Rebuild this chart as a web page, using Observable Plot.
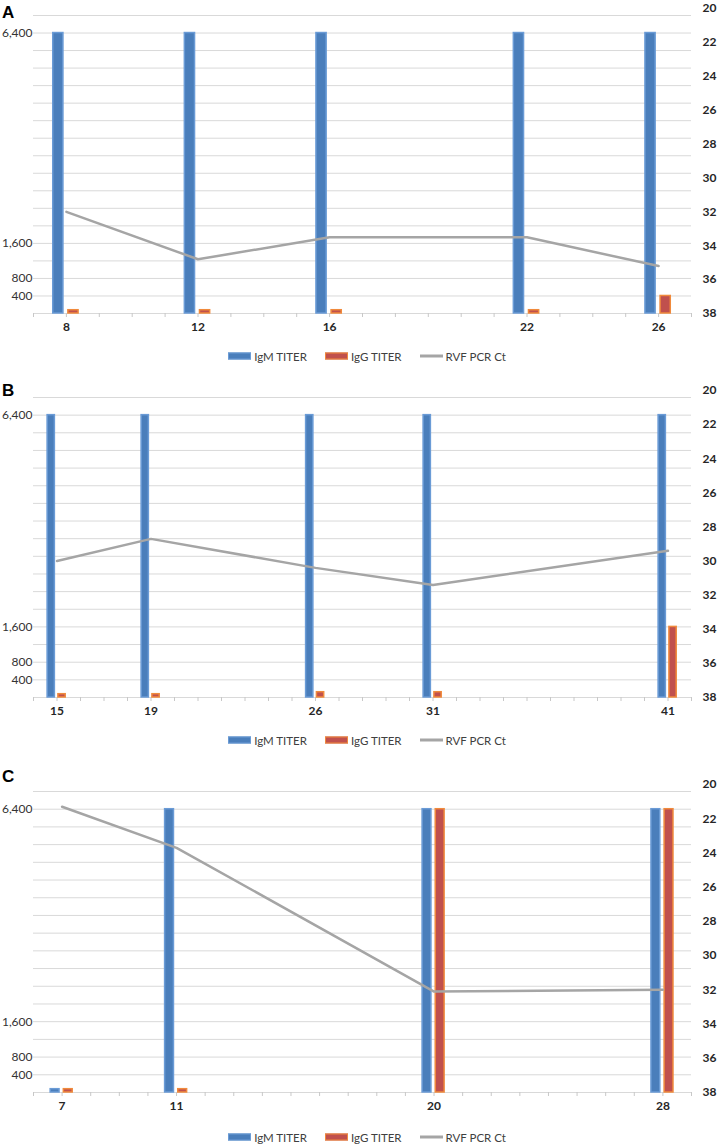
<!DOCTYPE html>
<html>
<head>
<meta charset="utf-8">
<script src="https://cdn.jsdelivr.net/npm/d3@7"></script>
<script src="https://cdn.jsdelivr.net/npm/@observablehq/plot@0.6"></script>
<style>
  html, body { margin: 0; padding: 0; background: #fff; }
  #root { position: relative; width: 717px; height: 1144px; overflow: hidden; font-family: Lato, "Liberation Sans", sans-serif; }
  .panel { position: absolute; left: 0; }
  .letter { position: absolute; left: 2px; font: bold 17px "Liberation Sans", Arial, sans-serif; color: #000; line-height: 1; }
  .legend { position: absolute; left: 0; width: 717px; display: flex; justify-content: center; align-items: center;
            padding-left: 17px; box-sizing: border-box; font: 11.5px Lato, sans-serif; color: #404040; transform: translateY(-50%); }
  .legend .item { display: flex; align-items: center; margin: 0 9px; }
  .legend .sw { display: inline-block; width: 23px; height: 7px; margin-right: 3px; box-sizing: border-box; }
  .legend .ln { display: inline-block; width: 23px; height: 3px; margin-right: 3px; background: #a5a5a5; }
</style>
</head>
<body>
<div id="root"></div>
<script>
// ---------- data ----------
const seriesNames = ["IgM TITER", "IgG TITER", "RVF PCR Ct"];

const daysA = [8, 12, 16, 22, 26];
const igmA  = [6400, 6400, 6400, 6400, 6400];
const iggA  = [75, 75, 75, 75, 400];
const ctA   = [32.0, 34.8, 33.5, 33.5, 35.2];

const daysB = [15, 19, 26, 31, 41];
const igmB  = [6400, 6400, 6400, 6400, 6400];
const iggB  = [75, 75, 120, 120, 1600];
const ctB   = [30.0, 28.7, 30.4, 31.4, 29.4];

const daysC = [7, 11, 20, 28];
const igmC  = [75, 6400, 6400, 6400];
const iggC  = [75, 75, 6400, 6400];
const ctC   = [21.3, 23.7, 32.1, 32.0];

const titerLabels = [400, 800, 1600, 6400];
const titerGrid = d3.range(400, 6801, 400);
const ctTicks = [20, 22, 24, 26, 28, 30, 32, 34, 36, 38];

// ---------- styling ----------
const IGM_FILL = "#4a7ebb", IGM_STROKE = "#6a9bd6";
const IGG_FILL = "#c0504d", IGG_STROKE = "#f08a3c";
const LINE = "#a5a5a5", GRID = "#d9d9d9";

const panels = [
  {letter: "A", days: daysA, igm: igmA, igg: iggA, ct: ctA, xdom: [7, 27], gridTop: 15, base: 313, letterTop: 4, legendY: 356},
  {letter: "B", days: daysB, igm: igmB, igg: iggB, ct: ctB, xdom: [14, 42], gridTop: 397, base: 697, letterTop: 382, legendY: 740},
  {letter: "C", days: daysC, igm: igmC, igg: iggC, ct: ctC, xdom: [6, 29], gridTop: 791, base: 1092, letterTop: 768, legendY: 1137}
];

const root = document.getElementById("root");

for (const p of panels) {
  const marginTop = Math.min(p.gridTop, 30);
  const marginBottom = 26;
  const plotH = p.base - p.gridTop;
  const height = marginTop + plotH + marginBottom;
  const ymax = 6800;
  // secondary (Ct) axis: 38 at the baseline, 20 sits ~7px above the top gridline
  const K = ymax * (plotH + 7) / plotH / 18;
  const ctToT = c => (38 - c) * K;

  const rows = p.days.map((d, i) => ({day: d, igm: p.igm[i], igg: p.igg[i], ct: p.ct[i]}));

  const chart = Plot.plot({
    width: 717,
    height,
    marginTop,
    marginBottom,
    marginLeft: 33,
    marginRight: 26,
    style: {fontFamily: "Lato, 'Liberation Sans', sans-serif", background: "transparent"},
    x: {type: "linear", domain: p.xdom, label: null},
    y: {domain: [0, ymax], label: null},
    marks: [
      Plot.gridY(titerGrid, {stroke: GRID, strokeOpacity: 1, strokeWidth: 1}),
      Plot.ruleY([0], {stroke: GRID, strokeWidth: 1}),
      Plot.axisX(d3.range(p.xdom[0], p.xdom[1] + 1), {tickSize: 4, stroke: "#c8c8c8", tickFormat: () => "", tickPadding: 0, label: null}),
      Plot.axisX(p.days, {tickSize: 0, tickPadding: 9, fontSize: 12, fontWeight: "bold", fill: "#262626", tickFormat: d => String(d), label: null}),
      Plot.axisY(titerLabels, {anchor: "left", tickSize: 0, tickPadding: 1, fontSize: 12, fill: "#333", tickFormat: d3.format(","), label: null}),
      Plot.axisY(ctTicks.map(ctToT), {anchor: "right", tickSize: 0, tickPadding: 11, fontSize: 12, fontWeight: "bold", fill: "#262626",
        tickFormat: t => String(Math.round(38 - t / K)), label: null}),
      Plot.rectY(rows, {x1: d => d.day - 0.4, x2: d => d.day - 0.09, y: "igm", fill: IGM_FILL, stroke: IGM_STROKE, strokeWidth: 1.5}),
      Plot.rectY(rows, {x1: d => d.day + 0.06, x2: d => d.day + 0.37, y: "igg", fill: IGG_FILL, stroke: IGG_STROKE, strokeWidth: 1.5}),
      Plot.line(rows, {x: "day", y: d => ctToT(d.ct), stroke: LINE, strokeWidth: 2.5})
    ]
  });

  const wrap = document.createElement("div");
  wrap.className = "panel";
  wrap.style.top = (p.gridTop - marginTop) + "px";
  wrap.appendChild(chart);
  root.appendChild(wrap);

  const letter = document.createElement("div");
  letter.className = "letter";
  letter.style.top = p.letterTop + "px";
  letter.textContent = p.letter;
  root.appendChild(letter);

  const lg = document.createElement("div");
  lg.className = "legend";
  lg.style.top = p.legendY + "px";
  lg.innerHTML =
    `<span class="item"><span class="sw" style="background:${IGM_FILL};border:1px solid ${IGM_STROKE}"></span>${seriesNames[0]}</span>` +
    `<span class="item"><span class="sw" style="background:${IGG_FILL};border:1px solid ${IGG_STROKE}"></span>${seriesNames[1]}</span>` +
    `<span class="item"><span class="ln"></span>${seriesNames[2]}</span>`;
  root.appendChild(lg);
}
</script>
</body>
</html>
